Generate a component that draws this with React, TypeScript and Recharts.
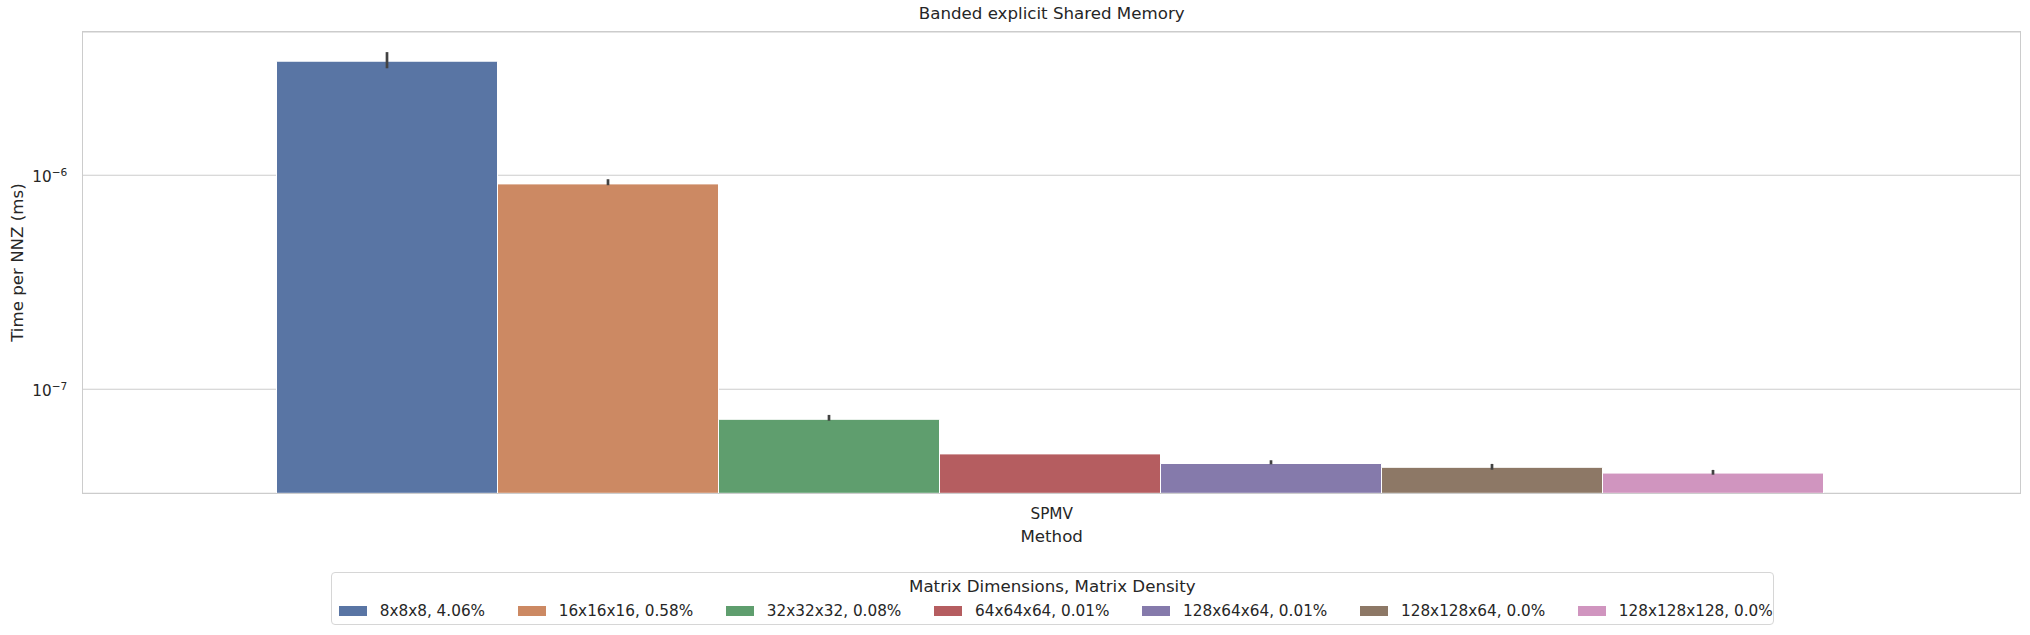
import { BarChart, Bar, XAxis, YAxis, CartesianGrid, ErrorBar } from 'recharts'

const methods = ['SPMV']
const seriesLabels = [
  '8x8x8, 4.06%',
  '16x16x16, 0.58%',
  '32x32x32, 0.08%',
  '64x64x64, 0.01%',
  '128x64x64, 0.01%',
  '128x128x64, 0.0%',
  '128x128x128, 0.0%',
]
// seaborn "deep" desaturated to 0.75
const seriesColors = ['#5975a4', '#cc8963', '#5f9e6e', '#b55d60', '#857aab', '#8d7866', '#d095bf']
const meanValues = [3.41e-6, 9.11e-7, 7.24e-8, 4.99e-8, 4.5e-8, 4.32e-8, 4.06e-8]
const lowerValues = [3.16e-6, 8.98e-7, 7.13e-8, 4.99e-8, 4.46e-8, 4.21e-8, 3.99e-8]
const upperValues = [3.76e-6, 9.58e-7, 7.59e-8, 4.99e-8, 4.66e-8, 4.48e-8, 4.2e-8]
const yTicks = [1e-7, 1e-6]
const yExponents = ['−7', '−6']
const yDomain = [3.266e-8, 4.673e-6]

const TEXT = '#262626'
const FONT = '"DejaVu Sans", sans-serif'

const data = methods.map((m) => {
  const row: Record<string, unknown> = { method: m }
  seriesLabels.forEach((_, i) => {
    row['s' + i] = meanValues[i]
    row['e' + i] = [meanValues[i] - lowerValues[i], upperValues[i] - meanValues[i]]
  })
  return row
})

function YTick({ x, y, payload }: any) {
  const idx = yTicks.indexOf(payload.value)
  return (
    <text x={x - 13.4} y={y + 7} textAnchor="end" fill={TEXT} fontSize={15.28} fontFamily={FONT}>
      <tspan>10</tspan>
      <tspan dy={-6.2} fontSize={10.6}>{yExponents[idx] ?? ''}</tspan>
    </text>
  )
}

export default function App() {
  return (
    <div style={{ position: 'absolute', left: 0, top: 0, width: 2030, height: 635, background: '#fff', fontFamily: FONT }}>
      <div style={{ position: 'absolute', left: 82.7, width: 1938, top: 4, textAlign: 'center', fontSize: 16.67, color: TEXT }}>
        Banded explicit Shared Memory
      </div>
      <BarChart
        width={2030}
        height={635}
        data={data}
        margin={{ top: 31.9, right: 9.3, bottom: 111.7, left: 12.7 }}
        barCategoryGap="10%"
        barGap={0}
      >
        <CartesianGrid vertical={false} stroke="#cccccc" strokeWidth={1.1} />
        <XAxis
          dataKey="method"
          height={30}
          tickSize={0}
          tickMargin={15}
          axisLine={false}
          tick={{ fontSize: 15.28, fill: TEXT, fontFamily: FONT }}
          label={{
            content: () => (
              <text x={1051.7} y={542} textAnchor="middle" fill={TEXT} fontSize={16.67} fontFamily={FONT}>
                Method
              </text>
            ),
          }}
        />
        <YAxis
          width={70}
          scale="log"
          type="number"
          domain={yDomain}
          allowDataOverflow
          ticks={yTicks}
          tickSize={0}
          axisLine={false}
          tick={<YTick />}
          label={{
            content: () => (
              <text
                x={23}
                y={262.6}
                textAnchor="middle"
                transform="rotate(-90, 23, 262.6)"
                fill={TEXT}
                fontSize={16.67}
                fontFamily={FONT}
              >
                Time per NNZ (ms)
              </text>
            ),
          }}
        />
        {seriesLabels.map((name, i) => (
          <Bar
            key={name}
            name={name}
            dataKey={'s' + i}
            fill={seriesColors[i]}
            stroke="#ffffff"
            strokeWidth={1}
            isAnimationActive={false}
          >
            <ErrorBar dataKey={'e' + i} width={0} stroke="#424242" strokeWidth={2.7} />
          </Bar>
        ))}
      </BarChart>
      {/* axes frame */}
      <div
        style={{
          position: 'absolute',
          left: 82,
          top: 31.3,
          width: 1939.3,
          height: 462.6,
          border: '1.25px solid #cccccc',
          boxSizing: 'border-box',
          pointerEvents: 'none',
        }}
      />
      {/* legend */}
      <div
        style={{
          position: 'absolute',
          left: 330.7,
          top: 572.3,
          width: 1443.3,
          height: 52.7,
          border: '1px solid #d6d6d6',
          borderRadius: 4,
          boxSizing: 'border-box',
          color: TEXT,
          fontSize: 15.28,
        }}
      >
        <div style={{ position: 'absolute', left: 0, right: 0, top: 3.5, textAlign: 'center', fontSize: 16.67, lineHeight: '20px' }}>
          Matrix Dimensions, Matrix Density
        </div>
        <div style={{ position: 'absolute', left: 7, top: 28, display: 'flex', alignItems: 'center', columnGap: 32.6, whiteSpace: 'nowrap', lineHeight: '20px' }}>
          {seriesLabels.map((name, i) => (
            <div key={name} style={{ display: 'flex', alignItems: 'center' }}>
              <span style={{ display: 'inline-block', width: 28, height: 10, background: seriesColors[i], marginRight: 13 }} />
              <span>{name}</span>
            </div>
          ))}
        </div>
      </div>
    </div>
  )
}
